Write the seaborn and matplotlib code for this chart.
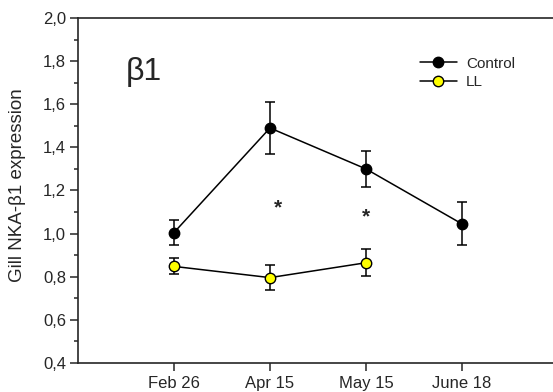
import pandas as pd
import matplotlib.pyplot as plt
import seaborn as sns
from matplotlib.lines import Line2D

dates = ["Feb 26", "Apr 15", "May 15", "June 18"]
control_mean = [1.005, 1.49, 1.30, 1.045]
control_err = [0.06, 0.12, 0.085, 0.10]
ll_dates = ["Feb 26", "Apr 15", "May 15"]
ll_mean = [0.848, 0.796, 0.865]
ll_err = [0.037, 0.057, 0.063]
star_dates = ["Apr 15", "May 15"]
star_y = [1.12, 1.077]

sns.set_style("ticks")
plt.rcParams['font.family'] = ['Liberation Sans', 'DejaVu Sans']

pos = {d: i for i, d in enumerate(dates)}
df = pd.concat([
    pd.DataFrame({"x": [pos[d] for d in dates], "y": control_mean, "err": control_err, "group": "Control"}),
    pd.DataFrame({"x": [pos[d] for d in ll_dates], "y": ll_mean, "err": ll_err, "group": "LL"}),
])

W, H = 553, 392
fig = plt.figure(figsize=(W / 100, H / 100), dpi=100)
# right spine falls outside the picture, as in the original
ax = fig.add_axes([78 / W, 1 - 363 / H, 576 / W, 345 / H])

colors = {"Control": "black", "LL": "#ffff00"}
for name, g in df.groupby("group"):
    ax.errorbar(g["x"], g["y"], yerr=g["err"], fmt="none", ecolor="black",
                elinewidth=1.1, capsize=3.6, capthick=1.1, zorder=2)
sns.lineplot(data=df, x="x", y="y", hue="group", palette=["black", "black"],
             linewidth=1.1, legend=False, ax=ax, zorder=3)
for name, g in df.groupby("group"):
    ax.plot(g["x"], g["y"], "o", ms=7.5, mfc=colors[name], mec="black", mew=1, zorder=4)

for d, y in zip(star_dates, star_y):
    off = 0.08 if d == "Apr 15" else 0.0
    ax.text(pos[d] + off, y, "*", ha="center", va="center", fontsize=15, fontweight="bold")

ax.text(-0.5, 1.75, "β1", fontsize=23, ha="left", va="center")

handles = [Line2D([], [], color="black", lw=1.1, marker="o", ms=7.5, mfc=c, mec="black")
           for c in ["black", "#ffff00"]]
ax.legend(handles, ["Control", "LL"], loc="center left",
          bbox_to_anchor=(420 / W, 1 - 73 / H), bbox_transform=fig.transFigure,
          frameon=False, fontsize=11, handlelength=2.4, handletextpad=0.6,
          labelspacing=0.3, borderpad=0, borderaxespad=0)

ax.set_xlim(-1, 5)
ax.set_ylim(0.4, 2.0)
ax.set_xticks(range(len(dates)))
ax.set_xticklabels(dates)
ax.set_yticks([0.4 + 0.2 * i for i in range(9)])
ax.set_yticklabels([f"{0.4 + 0.2 * i:.1f}".replace(".", ",") for i in range(9)])
ax.set_yticks([0.5 + 0.2 * i for i in range(8)], minor=True)
ax.tick_params(axis="both", labelsize=12, length=5.5, width=1.1, direction="out")
ax.tick_params(axis="y", pad=3)
ax.tick_params(axis="x", pad=4)
ax.tick_params(axis="y", which="minor", length=3, width=1.1)
ax.set_xlabel("")
ax.set_ylabel("Gill NKA-β1 expression", fontsize=13.5)
ax.yaxis.set_label_coords(-52 / 576, 0.516)
for s in ax.spines.values():
    s.set_linewidth(1.2)

fig.savefig("out.png", dpi=100)
